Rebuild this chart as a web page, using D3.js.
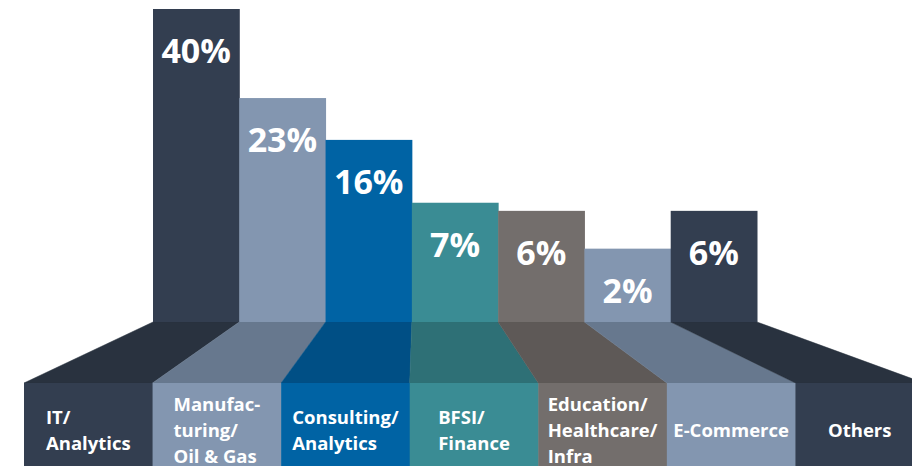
<!DOCTYPE html>
<html>
<head>
<meta charset="utf-8">
<script src="https://cdn.jsdelivr.net/npm/d3@7"></script>
<style>
  html, body { margin: 0; padding: 0; background: #ffffff; overflow: hidden; }
  svg { display: block; }
  text { font-family: "Open Sans", "Noto Sans", sans-serif; font-weight: 700; fill: #ffffff; }
</style>
</head>
<body>
<div id="chart"></div>
<script>
// chart data
const categories = ['IT/ Analytics', 'Manufacturing/ Oil & Gas', 'Consulting/ Analytics', 'BFSI/ Finance',
    'Education/ Healthcare/ Infra', 'E-Commerce', 'Others'];
const shares = [40, 23, 16, 7, 6, 2, 6];
const labelLines = [
    ['IT/', 'Analytics'],
    ['Manufac-', 'turing/', 'Oil & Gas'],
    ['Consulting/', 'Analytics'],
    ['BFSI/', 'Finance'],
    ['Education/', 'Healthcare/', 'Infra'],
    ['E-Commerce'],
    ['Others']
];
const barColors = ['#333e50', '#8396b0', '#0063a4', '#3a8c94', '#736e6c', '#8396b0', '#333e50'];
const floorColors = ['#29323f', '#67788e', '#004f85', '#2e7076', '#5e5957', '#67788e', '#29323f'];

const width = 912;
const height = 466;
const baseY = 322;   // where bars meet the floor
const frontY = 383;  // top of the front label strip

const svg = d3.select('#chart').append('svg')
    .attr('width', width)
    .attr('height', height);

// back bars and front strip each get their own band scale
const xBar = d3.scaleBand().domain(categories).range([153, 757]).padding(0);
const xFront = d3.scaleBand().domain(categories).range([24, 924]).padding(0);

// the original graphic isn't proportional, a softened power scale fits it
const y = d3.scalePow().exponent(0.72).domain([0, 40]).range([baseY - 42, 9]);

// floor trapezoids joining each bar to its front column
svg.append('g')
    .selectAll('path')
    .data(categories)
    .enter().append('path')
    .attr('d', d => {
        const p = d3.path();
        p.moveTo(xBar(d), baseY);
        p.lineTo(xBar(d) + xBar.bandwidth(), baseY);
        p.lineTo(xFront(d) + xFront.bandwidth(), frontY);
        p.lineTo(xFront(d), frontY);
        p.closePath();
        return p.toString();
    })
    .attr('fill', (d, i) => floorColors[i])
    .attr('stroke', (d, i) => floorColors[i])
    .attr('stroke-width', 0.5);

// bars
svg.append('g')
    .selectAll('rect')
    .data(categories)
    .enter().append('rect')
    .attr('x', d => xBar(d))
    .attr('y', (d, i) => y(shares[i]))
    .attr('width', xBar.bandwidth() + 0.5)
    .attr('height', (d, i) => baseY - y(shares[i]))
    .attr('fill', (d, i) => barColors[i]);

// percent labels
svg.append('g')
    .selectAll('text')
    .data(categories)
    .enter().append('text')
    .attr('x', d => xBar(d) + xBar.bandwidth() / 2)
    .attr('y', (d, i) => y(shares[i]) + 54)
    .attr('text-anchor', 'middle')
    .attr('font-size', '34px')
    .text((d, i) => shares[i] + '%');

// front label strip
svg.append('g')
    .selectAll('rect')
    .data(categories)
    .enter().append('rect')
    .attr('x', d => xFront(d))
    .attr('y', frontY)
    .attr('width', xFront.bandwidth() + 0.5)
    .attr('height', height - frontY + 5)
    .attr('fill', (d, i) => barColors[i]);

const lineGap = 26;
const labels = svg.append('g')
    .selectAll('text')
    .data(categories)
    .enter().append('text')
    .attr('font-size', '18.5px');

labels.each(function(d, i) {
    const t = d3.select(this);
    const lines = labelLines[i];
    const firstY = 437 - (lines.length - 1) * lineGap / 2;
    lines.forEach((line, k) => {
        t.append('tspan')
            .attr('y', firstY + k * lineGap)
            .text(line);
    });
    // left-aligned block, centered in its column
    let maxW = 0;
    t.selectAll('tspan').each(function() {
        maxW = Math.max(maxW, this.getComputedTextLength());
    });
    const x0 = xFront(d) + Math.max(4, (xFront.bandwidth() - maxW) / 2);
    t.selectAll('tspan').attr('x', x0);
});
</script>
</body>
</html>
